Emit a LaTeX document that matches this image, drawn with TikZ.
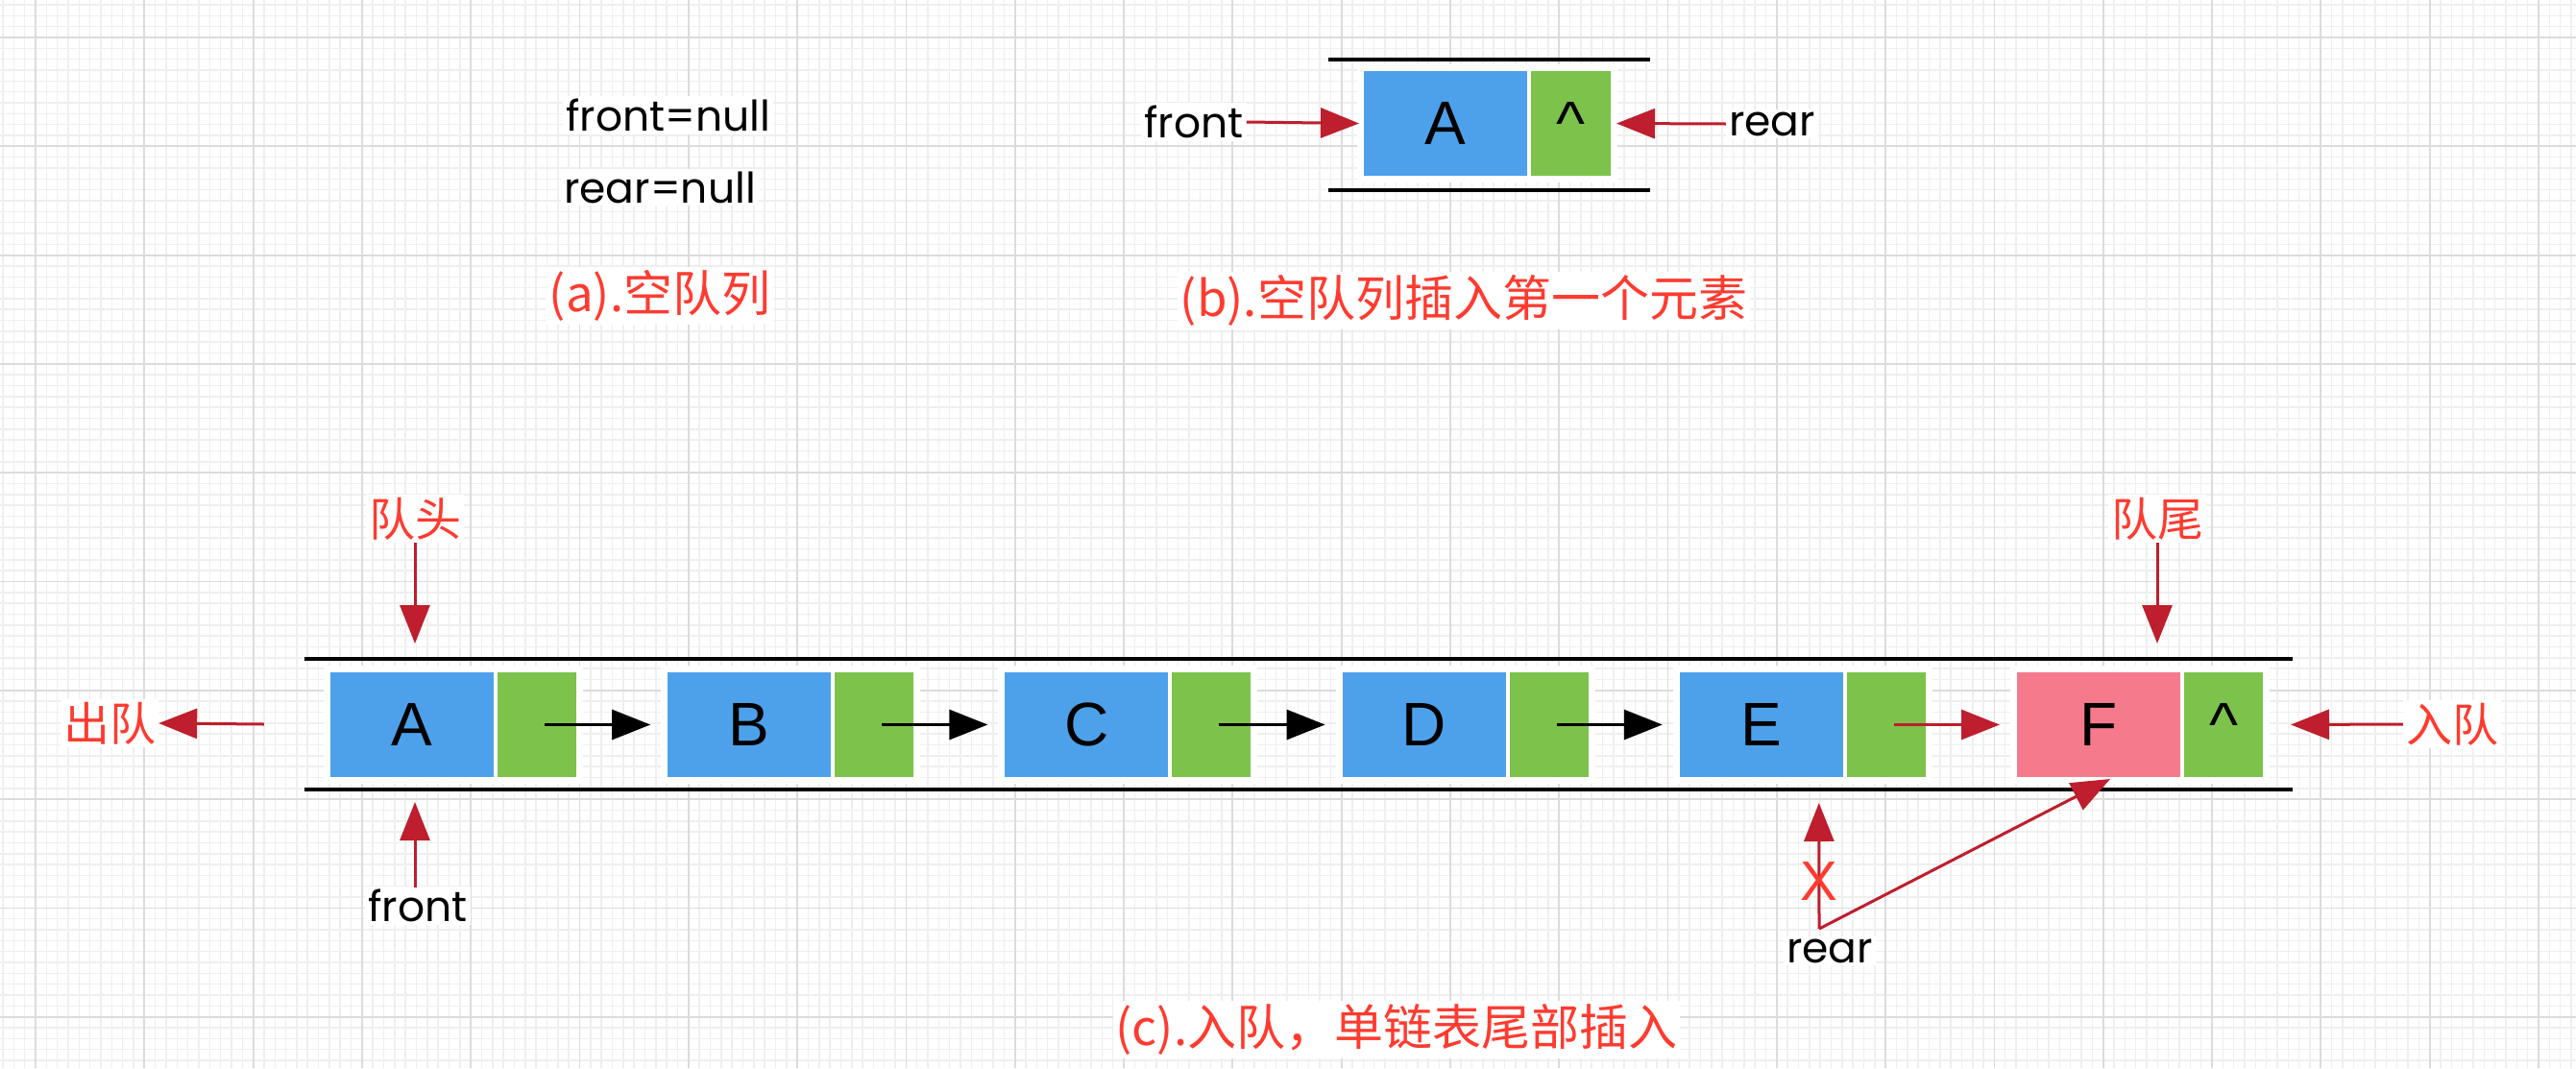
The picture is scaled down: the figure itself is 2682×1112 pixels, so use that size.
\documentclass[tikz,border=0pt]{standalone}
\usepackage{fontspec}
\setmainfont{Liberation Sans}
\newfontfamily\cjk{Noto Sans CJK SC}
\newfontfamily\lab{Poppins}
\usetikzlibrary{arrows.meta}
\definecolor{qblue}{HTML}{4DA1EA}
\definecolor{qgreen}{HTML}{7DC24B}
\definecolor{qpink}{HTML}{F47A8C}
\definecolor{qdark}{HTML}{BE1E2D}
\definecolor{qred}{HTML}{FF3B30}
\definecolor{gminor}{HTML}{EFEFEF}
\definecolor{gmajor}{HTML}{DCDCDC}
\tikzset{
  cell/.style={inner sep=0pt, outer sep=0pt, minimum height=109pt, font=\fontsize{64}{70}\selectfont},
  bluecell/.style={cell, fill=qblue, minimum width=170pt},
  pinkcell/.style={cell, fill=qpink, minimum width=170pt},
  greencell/.style={cell, fill=qgreen, minimum width=82pt},
  lbl/.style={fill=white, inner sep=3pt, font=\lab\fontsize{44}{50}\selectfont},
  cn/.style={fill=white, inner sep=3pt, text=qred, font=\cjk\fontsize{48}{54}\selectfont},
  captext/.style={cn, font=\cjk\fontsize{51}{56}\selectfont},
  redarrow/.style={draw=qdark, line width=3pt, -{Triangle[length=40pt,width=31pt]}},
  blackarrow/.style={draw=black, line width=3pt, -{Triangle[length=40pt,width=31pt]}},
  rail/.style={draw=black, line width=4pt},
  backing/.style={fill=white}
}
\begin{document}
\begin{tikzpicture}[x=1pt,y=-1pt]
\useasboundingbox (0,0) rectangle (2682,1112);
\fill[white] (0,0) rectangle (2682,1112);
% grid
\foreach \i in {0,...,236} \draw[gminor, line width=1.5pt] ({3+\i*11.33},0) -- ({3+\i*11.33},1112);
\foreach \j in {0,...,97} \draw[gminor, line width=1.5pt] (0,{5+\j*11.33}) -- (2682,{5+\j*11.33});
\foreach \i in {0,...,23} \draw[gmajor, line width=1.8pt] ({37+\i*113.3},0) -- ({37+\i*113.3},1112);
\foreach \j in {0,...,9} \draw[gmajor, line width=1.8pt] (0,{39+\j*113.3}) -- (2682,{39+\j*113.3});

% (a)
\node[lbl, anchor=west] (fa) at (586,120) {front=null};
\node[lbl, anchor=west] (ra) at (584,195) {rear=null};
\node[captext] (capa) at (687,308) {(a).空队列};

% (b)
\draw[rail] (1383,62) -- (1718,62);
\draw[rail] (1383,198) -- (1718,198);
\fill[backing] (1413,67) rectangle (1684,190);
\node[bluecell] (bb) at (1505,128.5) {A};
\node[greencell, minimum width=83pt] (gb) at (1635.5,128.5) {\textasciicircum};
\node[lbl] (fb) at (1243,127) {front};
\node[lbl] (rb) at (1845,129) {rear};
\draw[redarrow] (fb.east) -- ([xshift=-5pt]bb.west);
\draw[redarrow] (rb.west) -- ([xshift=6pt]gb.east);
\node[captext] (capb) at (1524,313) {(b).空队列插入第一个元素};

% (c)
\draw[rail] (317,686) -- (2387,686);
\draw[rail] (317,822) -- (2387,822);
\foreach \i in {0,...,5} \fill[backing] ({344+\i*351.2-7},693) rectangle ({344+\i*351.2+256+7},816);
\foreach \l [count=\i from 0] in {A,B,C,D,E} {
  \node[bluecell] (b\l) at ({344+\i*351.2+85},754.5) {\l};
  \node[greencell] (g\l) at ({344+\i*351.2+215},754.5) {};
}
\node[pinkcell] (bF) at ({344+5*351.2+85},754.5) {F};
\node[greencell] (gF) at ({344+5*351.2+215},754.5) {\textasciicircum};
\draw[blackarrow] ([xshift=8pt]gA.center) -- ([xshift=-18pt]bB.west);
\draw[blackarrow] ([xshift=8pt]gB.center) -- ([xshift=-18pt]bC.west);
\draw[blackarrow] ([xshift=8pt]gC.center) -- ([xshift=-18pt]bD.west);
\draw[blackarrow] ([xshift=8pt]gD.center) -- ([xshift=-18pt]bE.west);
\draw[redarrow] ([xshift=8pt]gE.center) -- ([xshift=-18pt]bF.west);

\node[cn] (qt) at (432,540) {队头};
\draw[redarrow] (qt.south) -- ([yshift=30pt]qt.south |- bA.north);
\node[lbl] (fc) at (435,943) {front};
\coordinate (fcs) at (432,924);
\draw[redarrow] (fcs) -- ([yshift=-26pt]fcs |- bA.south);

\node[cn] (qw) at (2246,540) {队尾};
\draw[redarrow] (qw.south) -- ([yshift=30pt]qw.south |- bF.north);

\node[cn] (cq) at (114,753) {出队};
\coordinate (outL) at (275,754);
\draw[redarrow] (outL) -- (cq.east);

\node[cn] (rq) at (2553,754) {入队};
\draw[redarrow] (rq.west) -- ([xshift=29pt]gF.east);

\node[lbl] (rc) at (1905,990) {rear};
\coordinate (rs) at (1894,967);
\draw[redarrow] (rs) -- ([xshift=-29pt,yshift=-27pt]gE.south west);
\draw[redarrow] (rs) -- ([xshift=12pt,yshift=-2pt]bF.south);
\node[text=qred, inner sep=0pt, font=\fontsize{58}{60}\selectfont] (xx) at (1894,918) {X};

\node[captext] (capc) at (1454,1072) {(c).入队，单链表尾部插入};
\end{tikzpicture}
\end{document}
